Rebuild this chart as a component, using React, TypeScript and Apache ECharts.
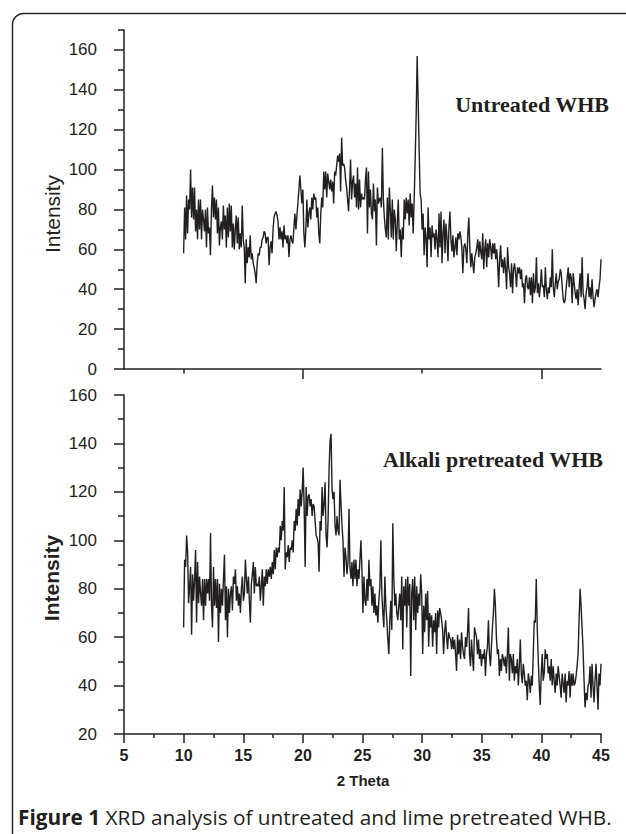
import React, { useEffect, useRef } from 'react';
import * as echarts from 'echarts';

// 2θ scan range (degrees)
const THETA_START = 10;
const THETA_END = 45;

// Untreated WHB intensity, read along the scan from 2θ = 10 to 45
const UNTREATED = [
  58, 81, 65, 87, 68, 85, 80, 100, 76, 91,
  75, 91, 69, 80, 65, 85, 70, 85, 65, 80,
  75, 69, 80, 61, 81, 68, 71, 57, 80, 92,
  76, 86, 75, 85, 68, 81, 62, 71, 74, 65,
  82, 70, 77, 61, 81, 66, 83, 69, 82, 61,
  73, 60, 70, 77, 63, 76, 60, 68, 61, 82,
  65, 61, 43, 65, 53, 61, 56, 67, 55, 58,
  53, 51, 48, 43, 53, 58, 57, 61, 61, 65,
  66, 69, 68, 63, 66, 66, 52, 61, 64, 58,
  70, 76, 78, 79, 77, 74, 65, 71, 65, 69,
  61, 72, 65, 67, 63, 67, 56, 65, 67, 64,
  63, 71, 78, 70, 77, 83, 90, 97, 90, 83,
  90, 68, 61, 70, 85, 71, 78, 81, 75, 86,
  80, 88, 85, 86, 76, 81, 68, 63, 78, 86,
  81, 99, 90, 99, 86, 98, 94, 90, 95, 89,
  94, 83, 99, 97, 102, 107, 104, 108, 89, 116,
  102, 103, 101, 95, 91, 85, 79, 91, 105, 85,
  94, 97, 86, 93, 81, 101, 80, 95, 81, 88,
  85, 86, 85, 95, 101, 68, 99, 81, 90, 78,
  75, 93, 79, 85, 62, 91, 83, 85, 86, 81,
  111, 85, 76, 70, 66, 86, 65, 91, 80, 66,
  85, 65, 80, 75, 59, 73, 85,
  65, 70, 56, 71, 65, 85, 75, 86, 78, 85,
  72, 88, 76, 83, 68, 85, 105, 127, 157, 135,
  110, 88, 85, 70, 78, 57, 71, 66, 51, 81,
  65, 71, 56, 72, 66, 68, 60, 70, 65, 56,
  78, 61, 79, 53, 68, 75, 58, 73, 66, 54,
  71, 79, 65, 59, 67, 56, 61, 66, 57, 68,
  65, 69, 66, 61, 48, 61, 63, 60, 53, 68,
  76, 61, 51, 58, 53, 48, 56, 58, 61, 65,
  56, 64, 59, 55, 68, 50, 60, 65, 51, 63,
  56, 65, 61, 55, 63, 58, 63, 55, 60, 53,
  41, 55, 62, 51, 55, 48, 56, 50, 40, 61,
  51, 48, 41, 53, 38, 50, 53, 48, 41, 51,
  48, 51, 45, 50, 41, 43, 33, 45, 47, 41,
  40, 46, 37, 46, 33, 48, 38, 41, 56, 38,
  43, 36, 42, 50, 41, 42, 36, 51, 40, 35,
  41, 38, 46, 41, 60, 41, 36, 43, 48, 40,
  44, 45, 50, 48, 41, 35, 33, 35, 41, 46,
  51, 41, 48, 46, 33, 48, 43, 38, 35, 40,
  32, 41, 48, 36, 56, 38, 35, 30, 38, 41,
  48, 36, 41, 35, 45, 36, 31, 35, 38, 40,
  36, 41, 45, 55,
];

// Alkali pretreated WHB intensity, read along the scan from 2θ = 10 to 45
const ALKALI = [
  64, 92, 89, 102, 95, 74, 81, 89, 61, 86,
  75, 84, 96, 66, 91, 74, 85, 78, 73, 84,
  67, 84, 73, 84, 78, 84, 75, 103, 73, 64,
  89, 73, 84, 72, 84, 58, 82, 70, 80, 73,
  84, 94, 67, 81, 60, 80, 70, 78, 81, 71,
  85, 82, 88, 75, 81, 73, 78, 70, 80, 85,
  75, 78, 92, 84, 78, 85, 75, 66, 82, 86,
  91, 78, 89, 81, 82, 81, 85, 75, 81, 88,
  73, 85, 81, 88, 82, 88, 85, 89, 84, 91,
  86, 96, 88, 97, 93, 97, 95, 106, 100, 108,
  104, 122, 88, 95, 93, 98, 91, 97, 96, 100,
  95, 108, 104, 113, 106, 117, 110, 121, 114, 120,
  130, 114, 89, 122, 110, 118, 119, 114, 117, 110,
  115, 114, 108, 102, 101, 99, 87, 108, 104, 122,
  110, 115, 124, 102, 97, 108, 129, 141, 144, 121,
  117, 120, 106, 102, 110, 104, 102, 125, 115, 106,
  100, 85, 97, 93, 86, 91, 113, 89, 84, 91,
  81, 92, 84, 92, 81, 88, 84, 92, 100, 88,
  70, 85, 75, 73, 84, 75, 92, 81, 84, 73,
  81, 70, 78, 69, 73, 66, 75, 81, 100, 78,
  70, 64, 85, 73, 67, 59, 53, 67, 75, 63,
  107, 84, 73, 78, 70, 67, 73,
  78, 67, 85, 55, 81, 73, 84, 64, 85, 73,
  82, 44, 78, 84, 67, 85, 63, 81, 70, 78,
  73, 86, 78, 53, 73, 62, 78, 67, 79, 56,
  70, 64, 69, 56, 67, 62, 70, 53, 71, 64,
  72, 70, 67, 63, 53, 62, 67, 60, 55, 62,
  60, 59, 55, 60, 55, 59, 53, 46, 61, 53,
  59, 51, 62, 56, 53, 51, 60, 56, 62, 72,
  53, 48, 59, 52, 46, 64, 62, 60, 53, 59,
  51, 55, 48, 53, 51, 55, 44, 53, 56, 67,
  53, 48, 56, 64, 70, 80, 73, 60, 53, 55,
  44, 51, 46, 53, 51, 48, 52, 45, 53, 64,
  42, 53, 51, 45, 53, 42, 48, 45, 51, 40,
  48, 59, 45, 41, 49, 45, 40, 42, 34, 45,
  42, 37, 44, 40, 53, 67, 66, 84, 64, 51,
  40, 32, 45, 53, 42, 45, 55, 51, 53, 45,
  48, 42, 51, 40, 48, 42, 37, 45, 40, 48,
  44, 40, 35, 45, 41, 37, 45, 33, 42, 40,
  46, 35, 45, 40, 45, 40, 41, 44, 48, 53,
  67, 80, 73, 64, 55, 42, 31, 37, 34, 40,
  41, 48, 35, 49, 40, 33, 42, 49, 40, 30,
  45, 40, 49,
];

// Axis ticks
const X_MAJOR = [5, 10, 15, 20, 25, 30, 35, 40, 45];
const X_MINOR = [7.5, 12.5, 17.5, 22.5, 27.5, 32.5, 37.5, 42.5];
const TOP_X_MAJOR = [20, 40];
const TOP_X_MINOR = [10, 30];
const TOP_Y_MAJOR = [0, 20, 40, 60, 80, 100, 120, 140, 160];
const TOP_Y_MINOR = [10, 30, 50, 70, 90, 110, 130, 150, 170];
const BOT_Y_MAJOR = [20, 40, 60, 80, 100, 120, 140, 160];
const BOT_Y_MINOR = [30, 50, 70, 90, 110, 130, 150];

const TITLE_TOP = 'Untreated WHB';
const TITLE_BOTTOM = 'Alkali pretreated WHB';
const Y_NAME = 'Intensity';
const X_NAME = '2 Theta';
const CAPTION_BOLD = 'Figure 1';
const CAPTION_TEXT = ' XRD analysis of untreated and lime pretreated WHB.';

const INK = '#231f20';
const SANS = '"Liberation Sans", Arial, sans-serif';
const SERIF = '"Liberation Serif", "Times New Roman", serif';

function toPairs(vals: number[]) {
  const step = (THETA_END - THETA_START) / (vals.length - 1);
  return vals.map((v, i) => [THETA_START + i * step, v]);
}

function xAxis(gridIndex: number, ticks: number[], len: number, showLine: boolean, labels: number[] | null) {
  return {
    type: 'value',
    gridIndex,
    min: 5,
    max: 45,
    position: 'bottom',
    axisLine: { show: showLine, onZero: false, lineStyle: { color: INK, width: 1.5 } },
    axisTick: { show: true, inside: false, length: len, customValues: ticks, lineStyle: { color: INK, width: 1.5 } },
    axisLabel: labels
      ? { show: true, customValues: labels, margin: 13, color: INK, fontFamily: SANS, fontWeight: 'bold', fontSize: 16 }
      : { show: false },
    splitLine: { show: false },
  };
}

function yAxis(gridIndex: number, min: number, max: number, ticks: number[], len: number, showLine: boolean, labels: number[] | null) {
  return {
    type: 'value',
    gridIndex,
    min,
    max,
    position: 'left',
    axisLine: { show: showLine, onZero: false, lineStyle: { color: INK, width: 1.5 } },
    axisTick: { show: true, inside: false, length: len, customValues: ticks, lineStyle: { color: INK, width: 1.5 } },
    axisLabel: labels
      ? { show: true, customValues: labels, margin: 27, color: INK, fontFamily: SANS, fontSize: 17 }
      : { show: false },
    splitLine: { show: false },
  };
}

export default function App() {
  const ref = useRef<HTMLDivElement>(null);
  useEffect(() => {
    document.body.style.margin = '0';
    if (!ref.current) return;
    const chart = echarts.init(ref.current, undefined, { renderer: 'svg' });
    chart.setOption({
      animation: false,
      backgroundColor: '#ffffff',
      grid: [
        { left: 124, top: 30, width: 477, height: 339 },
        { left: 124, top: 395, width: 477, height: 339 },
      ],
      xAxis: [
        xAxis(0, TOP_X_MAJOR, 10, true, null),
        xAxis(0, TOP_X_MINOR, 4.5, false, null),
        xAxis(1, X_MAJOR, 9, true, X_MAJOR),
        xAxis(1, X_MINOR, 4, false, null),
      ],
      yAxis: [
        yAxis(0, 0, 170, TOP_Y_MAJOR, 10, true, TOP_Y_MAJOR),
        yAxis(0, 0, 170, TOP_Y_MINOR, 6, false, null),
        yAxis(1, 20, 160, BOT_Y_MAJOR, 10, true, BOT_Y_MAJOR),
        yAxis(1, 20, 160, BOT_Y_MINOR, 6, false, null),
      ],
      series: [
        {
          type: 'line',
          name: TITLE_TOP,
          xAxisIndex: 0,
          yAxisIndex: 0,
          data: toPairs(UNTREATED),
          showSymbol: false,
          symbol: 'none',
          silent: true,
          lineStyle: { color: INK, width: 1.4 },
        },
        {
          type: 'line',
          name: TITLE_BOTTOM,
          xAxisIndex: 2,
          yAxisIndex: 2,
          data: toPairs(ALKALI),
          showSymbol: false,
          symbol: 'none',
          silent: true,
          lineStyle: { color: INK, width: 1.4 },
        },
      ],
      graphic: [
        {
          type: 'rect',
          shape: { x: 12.5, y: 13.5, width: 720, height: 900, r: 11 },
          style: { fill: 'none', stroke: '#2a2a2a', lineWidth: 1.5 },
          silent: true,
        },
        {
          type: 'text',
          x: 609,
          y: 104,
          style: { text: TITLE_TOP, fill: INK, font: `bold 22px ${SERIF}`, align: 'right', verticalAlign: 'middle', textAlign: 'right', textVerticalAlign: 'middle' },
        },
        {
          type: 'text',
          x: 383,
          y: 459,
          style: { text: TITLE_BOTTOM, fill: INK, font: `bold 22px ${SERIF}`, align: 'left', verticalAlign: 'middle', textAlign: 'left', textVerticalAlign: 'middle' },
        },
        {
          type: 'text',
          x: 52,
          y: 214,
          rotation: Math.PI / 2,
          style: { text: Y_NAME, fill: INK, font: `21px ${SANS}`, align: 'center', verticalAlign: 'middle', textAlign: 'center', textVerticalAlign: 'middle' },
        },
        {
          type: 'text',
          x: 51,
          y: 578,
          rotation: Math.PI / 2,
          style: { text: Y_NAME, fill: INK, font: `bold 21px ${SANS}`, align: 'center', verticalAlign: 'middle', textAlign: 'center', textVerticalAlign: 'middle' },
        },
        {
          type: 'text',
          x: 363,
          y: 780,
          style: { text: X_NAME, fill: INK, font: `bold 15px ${SANS}`, align: 'center', verticalAlign: 'middle', textAlign: 'center', textVerticalAlign: 'middle' },
        },
        {
          type: 'text',
          x: 18,
          y: 817,
          style: {
            text: `{b|${CAPTION_BOLD}}{r|${CAPTION_TEXT}}`,
            align: 'left',
            verticalAlign: 'middle',
            textAlign: 'left',
            textVerticalAlign: 'middle',
            rich: {
              b: { fontFamily: '"Open Sans", sans-serif', fontWeight: 'bold', fontSize: 20.8, fill: INK, color: INK },
              r: { fontFamily: '"Open Sans", sans-serif', fontWeight: 'normal', fontSize: 20.8, fill: INK, color: INK },
            },
          },
        },
      ],
    });
    return () => chart.dispose();
  }, []);
  return <div ref={ref} style={{ width: 626, height: 834 }} />;
}
